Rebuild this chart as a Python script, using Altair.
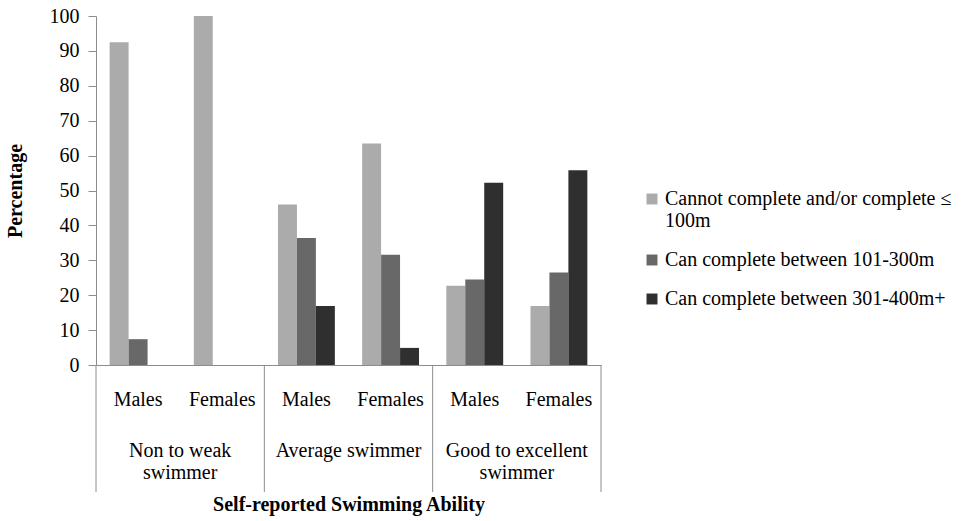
import altair as alt
import pandas as pd

# ---- data ----
groups = ["Non to weak swimmer", "Average swimmer", "Good to excellent swimmer"]
group_display = ["Non to weak\nswimmer", "Average swimmer", "Good to excellent\nswimmer"]
genders = ["Males", "Females"]
series = [
    "Cannot complete and/or complete ≤ 100m",
    "Can complete between 101-300m",
    "Can complete between 301-400m+",
]
# values in order: (Non-weak M, Non-weak F, Average M, Average F, Good M, Good F)
cannot_100 = [92.5, 100, 46, 63.5, 22.7, 16.9]
between_101_300 = [7.4, 0, 36.4, 31.6, 24.5, 26.5]
between_301_400 = [0, 0, 16.9, 4.9, 52.2, 55.8]
colors = ["#ababab", "#686868", "#2f2f2f"]

slots = [f"{g}|{s}" for g in groups for s in genders]
rows = []
for si, (name, vals) in enumerate(zip(series, [cannot_100, between_101_300, between_301_400])):
    for i, slot in enumerate(slots):
        rows.append({"slot": slot, "series": name, "value": vals[i]})
df = pd.DataFrame(rows)

left_rules = pd.DataFrame({"slot": [f"{g}|Males" for g in groups]})
right_rules = pd.DataFrame({"slot": [f"{groups[-1]}|Females"]})
group_labels = pd.DataFrame({"slot": [f"{g}|Females" for g in groups], "label": group_display})

FONT = "Liberation Serif"
FS = 20
W, H = 505, 349

xscale = alt.Scale(domain=slots, paddingInner=0, paddingOuter=0)

bars = alt.Chart(df).mark_bar().encode(
    x=alt.X(
        "slot:N",
        scale=xscale,
        sort=slots,
        axis=alt.Axis(
            labelExpr="split(datum.value, '|')[1]",
            ticks=False,
            labelAngle=0,
            labelPadding=24,
            labelFontSize=FS,
            labelFont=FONT,
            labelColor="black",
            domainColor="#8c8c8c",
            title="Self-reported Swimming Ability",
            titleFont=FONT,
            titleFontSize=FS,
            titleFontWeight="bold",
            titleColor="black",
            titleY=129,
            titleBaseline="top",
        ),
    ),
    xOffset=alt.XOffset("series:N", sort=series, scale=alt.Scale(paddingInner=0, paddingOuter=0.72)),
    y=alt.Y(
        "value:Q",
        scale=alt.Scale(domain=[0, 100], nice=False),
        axis=alt.Axis(
            values=list(range(0, 101, 10)),
            grid=False,
            tickSize=8,
            tickColor="#8c8c8c",
            domainColor="#8c8c8c",
            labelPadding=9,
            labelFontSize=FS,
            labelFont=FONT,
            labelColor="black",
            title="Percentage",
            titleFont=FONT,
            titleFontSize=FS,
            titleFontWeight="bold",
            titleColor="black",
            titlePadding=24,
        ),
    ),
    color=alt.Color(
        "series:N",
        sort=series,
        scale=alt.Scale(domain=series, range=colors),
        legend=alt.Legend(
            title=None,
            orient="none",
            legendX=546,
            legendY=173,
            symbolType="square",
            symbolSize=120,
            symbolStrokeWidth=0,
            labelFont=FONT,
            labelFontSize=FS,
            labelColor="black",
            labelLimit=400,
            labelOffset=3,
            rowPadding=19,
            padding=0,
            labelExpr=f"datum.label === '{series[0]}' ? ['Cannot complete and/or complete ≤', '100m'] : datum.label",
        ),
    ),
)

rule_style = dict(color="#8c8c8c", strokeWidth=1)
rules_l = alt.Chart(left_rules).mark_rule(**rule_style).encode(
    x=alt.X("slot:N", scale=xscale, sort=slots, bandPosition=0),
    y=alt.value(H),
    y2=alt.value(H + 127),
)
rules_r = alt.Chart(right_rules).mark_rule(**rule_style).encode(
    x=alt.X("slot:N", scale=xscale, sort=slots, bandPosition=1),
    y=alt.value(H),
    y2=alt.value(H + 127),
)
glabels = alt.Chart(group_labels).mark_text(
    font=FONT, fontSize=FS, color="black", baseline="top", align="center",
    lineBreak="\n", lineHeight=22,
).encode(
    x=alt.X("slot:N", scale=xscale, sort=slots, bandPosition=0),
    y=alt.value(H + 76),
    text="label:N",
)

chart = (
    alt.layer(bars, rules_l, rules_r, glabels)
    .properties(
        width=W,
        height=H,
        autosize=alt.AutoSizeParams(type="none"),
        padding={"left": 96, "top": 16, "right": 977 - 96 - W, "bottom": 521 - 16 - H},
        background="white",
    )
    .configure_view(stroke=None)
)

chart.save("out.html", embed_options={"renderer": "svg", "actions": False})
